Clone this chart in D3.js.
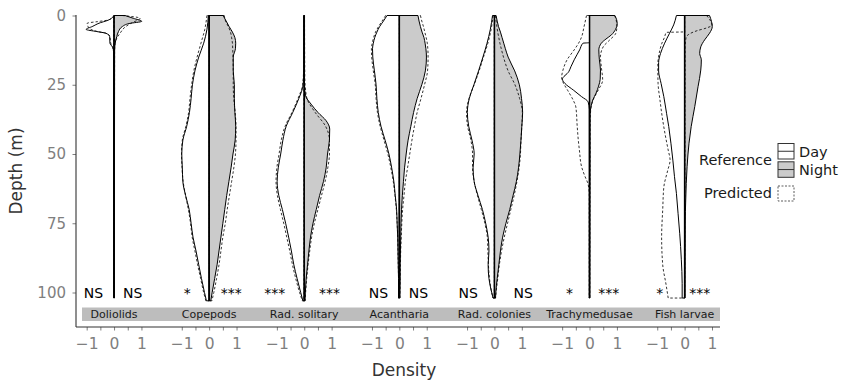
<!DOCTYPE html>
<html>
<head>
<meta charset="utf-8">
<script src="https://cdn.jsdelivr.net/npm/d3@7"></script>
<style>
  body { margin: 0; background: #fff; }
  svg { font-family: "DejaVu Sans", sans-serif; }
</style>
</head>
<body>
<svg class="svg-chart" width="841" height="380"></svg>
<script>
// groups, left = day, right = night
const categories = ["Doliolids", "Copepods", "Rad. solitary", "Acantharia", "Rad. colonies", "Trachymedusae", "Fish larvae"];
const depthTicks = [0, 25, 50, 75, 100];
const densityTicks = [-1, -0.5, 0, 0.5, 1];

// significance labels
const sigDay = ["NS", "*", "***", "NS", "NS", "*", "*"];
const sigNight = ["NS", "***", "***", "NS", "NS", "***", "***"];
const sigDayX = [-0.75, -0.8, -1.08, -0.76, -0.96, -0.73, -0.91];
const sigNightX = [0.68, 0.81, 0.92, 0.7, 1.05, 0.7, 0.55];

// [depth (m), density] per group
const dayRef = [
  [[0,0],[1.9,0.27],[2.6,0.5],[4,0.8],[5,1.02],[5.8,0.63],[6.4,0.3],[7.6,0.16],[10,0.15],[11.5,0.05],[13,0.02],[102,0.01]],
  [[0,0.03],[5,0.08],[10,0.2],[15,0.38],[20,0.52],[25,0.61],[30,0.66],[35,0.72],[40,0.82],[45,0.96],[50,1.0],[55,0.98],[60,0.96],[65,0.86],[70,0.73],[75,0.66],[80,0.59],[85,0.48],[90,0.38],[95,0.28],[100,0.17],[103,0.1]],
  [[0,0.02],[20,0.02],[25,0.04],[30,0.2],[35,0.42],[40,0.66],[45,0.78],[50,0.86],[55,0.95],[60,0.99],[65,0.93],[70,0.8],[75,0.68],[80,0.57],[85,0.47],[90,0.38],[95,0.26],[100,0.13],[103,0.05]],
  [[0,0.45],[2,0.58],[4,0.72],[6,0.82],[8,0.9],[10,0.95],[12,0.98],[15,0.97],[20,0.91],[25,0.85],[30,0.82],[35,0.77],[40,0.67],[45,0.52],[50,0.38],[55,0.28],[60,0.2],[65,0.15],[70,0.1],[75,0.08],[80,0.06],[85,0.05],[90,0.04],[95,0.03],[102,0.03]],
  [[0,0.07],[5,0.15],[10,0.27],[15,0.42],[20,0.58],[25,0.75],[30,0.92],[35,0.99],[40,0.94],[45,0.82],[50,0.74],[55,0.78],[60,0.74],[65,0.6],[70,0.44],[75,0.32],[80,0.23],[85,0.2],[90,0.23],[95,0.2],[100,0.1],[102,0.05]],
  [[0,0],[9.8,0],[10,0.24],[12.4,0.36],[16,0.56],[18.5,0.68],[20.3,0.76],[23,0.99],[24.5,0.9],[27,0.58],[29.3,0.29],[31.2,0.05],[34,0.01],[102,0.01]],
  [[0,0.3],[3.4,0.4],[6.4,0.55],[10,0.73],[13.7,0.88],[17,0.95],[20,0.95],[24.5,0.86],[29.3,0.76],[35.3,0.66],[40.1,0.58],[46.1,0.5],[52.2,0.43],[58.2,0.37],[64.2,0.3],[71.4,0.24],[78.6,0.18],[88.2,0.12],[96.7,0.09],[102,0.09]]
];

const nightRef = [
  [[0,0.4],[1,0.7],[2.1,1.01],[2.9,0.55],[4,0.3],[5.8,0.16],[7.6,0.1],[10,0.04],[13,0.02],[102,0.01]],
  [[0,0.51],[2,0.62],[4,0.73],[6,0.85],[8,0.94],[10,0.97],[12,0.96],[15,0.88],[20,0.88],[25,0.92],[30,0.92],[35,0.94],[40,0.97],[45,0.95],[50,0.87],[55,0.8],[60,0.72],[65,0.64],[70,0.57],[75,0.5],[80,0.43],[85,0.36],[90,0.29],[95,0.2],[100,0.11],[103,0.06]],
  [[0,0.01],[25,0.01],[29,0.05],[32,0.25],[35,0.5],[38,0.8],[41,0.93],[45,0.92],[50,0.85],[55,0.8],[60,0.7],[65,0.56],[70,0.44],[75,0.32],[80,0.23],[85,0.17],[90,0.12],[95,0.07],[100,0.04],[103,0.03]],
  [[0,0.68],[2,0.72],[4,0.77],[6,0.83],[8,0.9],[10,0.94],[12,0.97],[15,0.99],[20,0.95],[25,0.82],[30,0.65],[35,0.52],[40,0.42],[45,0.32],[50,0.25],[55,0.19],[60,0.15],[65,0.11],[70,0.08],[75,0.06],[80,0.05],[85,0.04],[90,0.03],[95,0.03],[102,0.02]],
  [[0,0.06],[2,0.1],[4,0.15],[6,0.22],[8,0.28],[10,0.34],[12,0.4],[15,0.5],[20,0.74],[25,0.91],[30,0.99],[35,1.03],[40,1.0],[45,0.97],[50,0.93],[55,0.88],[60,0.8],[65,0.68],[70,0.56],[75,0.42],[80,0.3],[85,0.22],[90,0.16],[95,0.1],[100,0.05],[102,0.04]],
  [[0,0.92],[1.5,0.99],[3,1.01],[5,0.95],[7,0.8],[8.5,0.6],[10,0.43],[12.4,0.34],[16,0.36],[19.7,0.4],[23,0.39],[25.5,0.33],[28,0.24],[30.5,0.12],[33,0.05],[36,0.02],[102,0.01]],
  [[0,0.91],[2.1,0.98],[4,1.01],[6.4,0.91],[8.8,0.73],[11.3,0.59],[13.7,0.55],[16,0.61],[19.7,0.59],[25.7,0.49],[32.9,0.37],[40.1,0.24],[46.1,0.16],[54.6,0.09],[66.6,0.04],[75,0.02],[102,0.01]]
];

const dayPred = [
  [[0,0],[1.6,0.2],[2.2,0.6],[2.8,0.98],[4,0.95],[5,0.85],[5.8,0.6],[6.4,0.3],[7.6,0.15],[10,0.12],[11.5,0.05],[13,0.02],[102,0.01]],
  [[0,0.08],[5,0.16],[10,0.3],[15,0.44],[20,0.56],[25,0.64],[30,0.7],[35,0.75],[40,0.85],[45,0.98],[50,1.01],[55,0.99],[60,0.95],[65,0.86],[70,0.76],[75,0.68],[80,0.62],[85,0.52],[90,0.42],[95,0.31],[100,0.2],[103,0.12]],
  [[0,0.02],[18,0.02],[25,0.06],[30,0.23],[35,0.45],[40,0.7],[45,0.84],[50,0.92],[55,1.0],[60,1.03],[65,0.98],[70,0.87],[75,0.75],[80,0.64],[85,0.53],[90,0.43],[95,0.31],[100,0.17],[103,0.07]],
  [[0,0.5],[2,0.63],[4,0.76],[6,0.87],[8,0.94],[10,0.99],[12,1.02],[15,1.01],[20,0.95],[25,0.88],[30,0.85],[35,0.8],[40,0.7],[45,0.56],[50,0.42],[55,0.31],[60,0.22],[65,0.16],[70,0.11],[75,0.08],[80,0.06],[85,0.05],[90,0.04],[95,0.03],[102,0.03]],
  [[0,0.05],[5,0.12],[10,0.24],[15,0.4],[20,0.56],[25,0.74],[30,0.93],[35,1.02],[40,0.98],[45,0.86],[50,0.8],[55,0.8],[60,0.74],[65,0.62],[70,0.48],[75,0.35],[80,0.26],[85,0.24],[90,0.22],[95,0.18],[100,0.1],[102,0.05]],
  [[0,0.11],[4,0.2],[8,0.3],[10,0.4],[12.4,0.56],[16,0.82],[19.7,0.97],[22.5,1.02],[25,0.92],[27,0.8],[30.5,0.6],[33,0.5],[40,0.45],[45,0.41],[48.6,0.37],[54.6,0.29],[58,0.17],[61,0.05],[65,0.01],[102,0.01]],
  [[0,0],[5.9,0],[6.1,0.67],[8,0.74],[10,0.83],[13.7,0.93],[18,0.98],[24.5,0.97],[30.5,0.9],[36.5,0.82],[42.5,0.72],[48.6,0.6],[52.2,0.53],[56,0.62],[62,0.76],[70,0.8],[80,0.84],[90,0.8],[97,0.68],[102,0.6]]
];

const nightPred = [
  [[0,0.3],[1,0.95],[2.7,0.64],[4.2,0.4],[6.4,0.22],[8.2,0.1],[10,0.04],[13,0.02],[102,0.01]],
  [[0,0.55],[2,0.6],[4,0.7],[6,0.78],[8,0.82],[10,0.85],[12,0.86],[15,0.87],[20,0.88],[25,0.88],[30,0.9],[35,0.95],[40,0.98],[45,0.98],[50,0.96],[55,0.9],[60,0.82],[65,0.74],[70,0.66],[75,0.59],[80,0.5],[85,0.43],[90,0.36],[95,0.27],[100,0.17],[103,0.1]],
  [[0,0.01],[22,0.02],[26,0.04],[30,0.1],[35,0.4],[40,0.78],[45,0.92],[50,0.92],[55,0.86],[60,0.76],[65,0.63],[70,0.5],[75,0.37],[80,0.27],[85,0.2],[90,0.14],[95,0.09],[100,0.05],[103,0.03]],
  [[0,0.77],[2,0.82],[4,0.88],[6,0.93],[8,0.98],[10,1.02],[12,1.04],[15,1.05],[20,1.03],[25,0.92],[30,0.79],[35,0.65],[40,0.55],[45,0.46],[50,0.38],[55,0.3],[60,0.22],[65,0.17],[70,0.12],[75,0.09],[80,0.07],[85,0.05],[90,0.04],[95,0.03],[102,0.02]],
  [[0,0.04],[2,0.06],[4,0.09],[6,0.12],[8,0.16],[10,0.2],[12,0.25],[15,0.33],[20,0.5],[25,0.75],[30,0.92],[35,1.02],[40,1.0],[45,0.97],[50,0.95],[55,0.9],[60,0.82],[65,0.72],[70,0.6],[75,0.48],[80,0.36],[85,0.26],[90,0.18],[95,0.12],[100,0.06],[102,0.04]],
  [[0,0.92],[2,0.98],[4,1.0],[6.4,0.96],[8.8,0.74],[11.3,0.5],[14.9,0.4],[18.5,0.43],[23.3,0.48],[26.9,0.32],[30.5,0.13],[34.5,0.04],[40,0.02],[102,0.01]],
  [[0,0.8],[2,0.95],[3.5,1.0],[4.5,0.8],[5.5,0.45],[6.8,0.15],[8,0.05],[12,0.02],[102,0.01]]
];

const svg = d3.select(".svg-chart");
const panelStep = 3.473;
const plotLeft = 76, plotRight = 720, plotTop = 15.5, axisY = 327;

const x = d3.scaleLinear().domain([-1.39, 22.13]).range([plotLeft, plotRight]);
const y = d3.scaleLinear().domain([0, 100]).range([plotTop, 292.5]);
const u = x(1) - x(0);

const plot = svg.append("g").attr("class", "plot");

categories.forEach(function (cat, i) {
  const cx = x(i * panelStep);
  const dayArea = d3.area().curve(d3.curveMonotoneY)
    .y(function (d) { return y(d[0]); })
    .x0(cx)
    .x1(function (d) { return cx - d[1] * u; });
  const nightArea = d3.area().curve(d3.curveMonotoneY)
    .y(function (d) { return y(d[0]); })
    .x0(cx)
    .x1(function (d) { return cx + d[1] * u; });

  const g = plot.append("g").attr("class", "panel");

  g.append("path").datum(dayRef[i])
    .attr("d", dayArea)
    .attr("fill", "#ffffff").attr("stroke", "#000").attr("stroke-width", 1);
  g.append("path").datum(nightRef[i])
    .attr("d", nightArea)
    .attr("fill", "#cbcbcb").attr("stroke", "#000").attr("stroke-width", 1);
  g.append("path").datum(dayPred[i])
    .attr("d", dayArea)
    .attr("fill", "none").attr("stroke", "#000").attr("stroke-width", 0.8).attr("stroke-dasharray", "2.5,2");
  g.append("path").datum(nightPred[i])
    .attr("d", nightArea)
    .attr("fill", "none").attr("stroke", "#000").attr("stroke-width", 0.8).attr("stroke-dasharray", "2.5,2");

  g.append("line")
    .attr("x1", cx).attr("x2", cx)
    .attr("y1", y(0)).attr("y2", y(d3.max(dayRef[i], function (d) { return d[0]; })))
    .attr("stroke", "#000").attr("stroke-width", 1.5);

  g.append("text")
    .attr("x", cx + sigDayX[i] * u).attr("y", y(100) + 5.5)
    .attr("text-anchor", "middle").attr("font-size", 14).attr("fill", "#000")
    .text(sigDay[i]);
  g.append("text")
    .attr("x", cx + sigNightX[i] * u).attr("y", y(100) + 5.5)
    .attr("text-anchor", "middle").attr("font-size", 14).attr("fill", "#000")
    .text(sigNight[i]);
});

// strip with group names
svg.append("rect")
  .attr("x", 82).attr("y", 307.5).attr("width", plotRight - 82).attr("height", 13.5)
  .attr("fill", "#bdbdbd");
svg.append("g").selectAll("text")
  .data(categories)
  .enter()
  .append("text")
  .attr("x", function (d, i) { return x(i * panelStep); })
  .attr("y", 318.3)
  .attr("text-anchor", "middle").attr("font-size", 11).attr("fill", "#1a1a1a")
  .text(function (d) { return d; });

// axes
const yAxis = svg.append("g")
  .attr("transform", "translate(" + plotLeft + ",0)")
  .call(d3.axisLeft(y).tickValues(depthTicks).tickSize(3.5).tickPadding(6.5));
yAxis.select(".domain").remove();
yAxis.selectAll(".tick line").attr("stroke", "#7f7f7f");
yAxis.selectAll(".tick text").attr("font-size", 15).attr("fill", "#7f7f7f").attr("font-family", "DejaVu Sans");

const xTickValues = [];
categories.forEach(function (c, i) {
  densityTicks.forEach(function (t) { xTickValues.push(i * panelStep + t); });
});
const fmt = d3.format("d");
const xAxis = svg.append("g")
  .attr("transform", "translate(0," + axisY + ")")
  .call(d3.axisBottom(x).tickValues(xTickValues).tickSize(3.5).tickPadding(7.5)
    .tickFormat(function (v) {
      const rel = Math.round((v - Math.round(v / panelStep) * panelStep) * 2) / 2;
      return Number.isInteger(rel) ? fmt(rel) : "";
    }));
xAxis.select(".domain").remove();
xAxis.selectAll(".tick line").attr("stroke", "#7f7f7f");
xAxis.selectAll(".tick text").attr("font-size", 15.5).attr("fill", "#7f7f7f").attr("font-family", "DejaVu Sans");

svg.append("line")
  .attr("x1", plotLeft).attr("x2", plotLeft).attr("y1", 15).attr("y2", axisY)
  .attr("stroke", "#333").attr("stroke-width", 1.1);
svg.append("line")
  .attr("x1", plotLeft).attr("x2", plotRight).attr("y1", axisY).attr("y2", axisY)
  .attr("stroke", "#333").attr("stroke-width", 1.1);

svg.append("text")
  .attr("x", 404).attr("y", 376)
  .attr("text-anchor", "middle").attr("font-size", 17).attr("fill", "#333")
  .text("Density");
svg.append("text")
  .attr("transform", "translate(22,171) rotate(-90)")
  .attr("text-anchor", "middle").attr("font-size", 17).attr("fill", "#333")
  .text("Depth (m)");

// legend
const legend = svg.append("g").attr("class", "legend");
legend.append("text").attr("x", 772).attr("y", 164.5).attr("text-anchor", "end")
  .attr("font-size", 14.5).attr("fill", "#1a1a1a").text("Reference");
[["Day", "#ffffff", 143.5], ["Night", "#cbcbcb", 161.8]].forEach(function (k) {
  legend.append("rect").attr("x", 778).attr("y", k[2]).attr("width", 16).attr("height", 15.5)
    .attr("fill", k[1]).attr("stroke", "#333").attr("stroke-width", 1);
  legend.append("line").attr("x1", 778).attr("x2", 794).attr("y1", k[2] + 7.75).attr("y2", k[2] + 7.75)
    .attr("stroke", "#333").attr("stroke-width", 1);
  legend.append("text").attr("x", 799).attr("y", k[2] + 13)
    .attr("font-size", 14.5).attr("fill", "#1a1a1a").text(k[0]);
});
legend.append("text").attr("x", 772).attr("y", 198).attr("text-anchor", "end")
  .attr("font-size", 14.5).attr("fill", "#1a1a1a").text("Predicted");
legend.append("rect").attr("x", 778).attr("y", 186).attr("width", 16).attr("height", 15)
  .attr("fill", "none").attr("stroke", "#333").attr("stroke-width", 0.8).attr("stroke-dasharray", "2,1.5");
</script>
</body>
</html>
